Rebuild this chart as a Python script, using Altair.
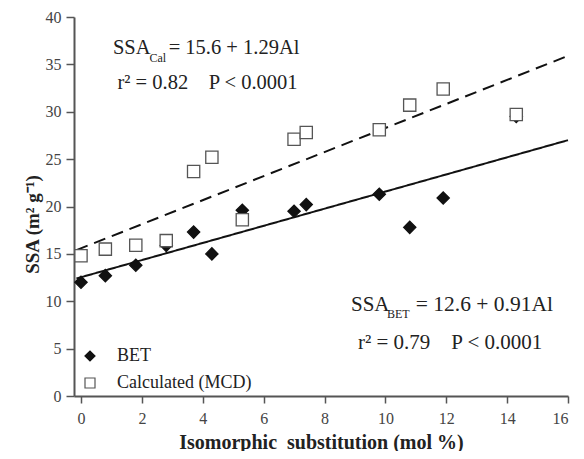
import altair as alt
import pandas as pd

# Data
al_mol = [0.0, 0.8, 1.8, 2.8, 3.7, 4.3, 5.3, 7.0, 7.4, 9.8, 10.8, 11.9, 14.3]
ssa_bet = [12.0, 12.7, 13.8, 15.9, 17.3, 15.0, 19.6, 19.5, 20.2, 21.3, 17.8, 20.9, 29.5]
ssa_cal = [14.8, 15.5, 15.9, 16.4, 23.7, 25.2, 18.6, 27.1, 27.8, 28.1, 30.7, 32.4, 29.7]
series_names = ["BET", "Calculated (MCD)"]

# Regression line end points
fit_x = [-0.15, 16.0]
fit_bet = [12.4, 27.0]
fit_cal = [15.4, 35.9]

x_ticks = [0, 2, 4, 6, 8, 10, 12, 14, 16]
y_ticks = [0, 5, 10, 15, 20, 25, 30, 35, 40]

FONT = "Liberation Serif"
TXT = "#222222"
NB = "\u00a0"

pts = pd.DataFrame({
    "x": al_mol + al_mol,
    "y": ssa_bet + ssa_cal,
    "series": [series_names[0]] * len(al_mol) + [series_names[1]] * len(al_mol),
})
lines = pd.DataFrame({
    "x": fit_x + fit_x,
    "y": fit_bet + fit_cal,
    "fit": ["BET"] * 2 + ["Cal"] * 2,
})

xs = alt.Scale(domain=[-0.23, 16], nice=False, zero=False)
ys = alt.Scale(domain=[0, 40], nice=False)

xax = alt.Axis(values=x_ticks, title=f"Isomorphic{NB}{NB}substitution (mol %)", grid=False,
               labelFont=FONT, labelFontSize=16, labelColor="#444444", labelPadding=7,
               titleFont=FONT, titleFontSize=20, titleFontWeight="bold", titleColor=TXT,
               titlePadding=6, domainColor="#555555", domainWidth=2, tickColor="#555555",
               tickWidth=1.5, tickSize=7)
yax = alt.Axis(values=y_ticks, title="SSA (m² g⁻¹)", grid=False,
               labelFont=FONT, labelFontSize=16, labelColor="#444444", labelPadding=5,
               titleFont=FONT, titleFontSize=19, titleFontWeight="bold", titleColor=TXT,
               titlePadding=3, titleY=207, domainColor="#555555", domainWidth=2, tickColor="#555555",
               tickWidth=1.5, tickSize=8)

line_layer = alt.Chart(lines).mark_line(color="#111111", strokeWidth=2).encode(
    x=alt.X("x:Q", scale=xs, axis=xax),
    y=alt.Y("y:Q", scale=ys, axis=yax),
    detail="fit:N",
    strokeDash=alt.StrokeDash("fit:N", scale=alt.Scale(domain=["BET", "Cal"], range=[[1, 0], [12, 7]]), legend=None),
)

point_layer = alt.Chart(pts).mark_point(size=150, strokeWidth=1.3, opacity=1).encode(
    x=alt.X("x:Q", scale=xs),
    y=alt.Y("y:Q", scale=ys),
    shape=alt.Shape("series:N", scale=alt.Scale(domain=series_names, range=["diamond", "square"]),
                    legend=alt.Legend(title=None, orient="none", legendX=7, legendY=330,
                                      labelFont=FONT, labelFontSize=18, labelColor=TXT,
                                      labelOffset=18, rowPadding=9, symbolSize=100,
                                      symbolStrokeWidth=1.2, padding=0)),
    fill=alt.Fill("series:N", scale=alt.Scale(domain=series_names, range=["#111111", "white"])),
    stroke=alt.Stroke("series:N", scale=alt.Scale(domain=series_names, range=["#111111", "#555555"])),
)

# Annotation texts (equations)
ann = pd.DataFrame({
    "x": [1.05, 2.25, 2.88, 1.2, 8.87, 10.05, 11.0, 9.1],
    "y": [36.1, 35.3, 36.1, 32.4, 9.0, 8.2, 9.0, 5.0],
    "t": ["SSA", "Cal", "= 15.6 + 1.29Al", f"r² = 0.82{NB*4}P < 0.0001",
          "SSA", "BET", "= 12.6 + 0.91Al", f"r² = 0.79{NB*4}P < 0.0001"],
    "s": [20.5, 12, 20.5, 20.5, 21, 12, 21.5, 21],
})
text_layer = alt.Chart(ann).mark_text(align="left", baseline="alphabetic", font=FONT, color=TXT).encode(
    x=alt.X("x:Q", scale=xs),
    y=alt.Y("y:Q", scale=ys),
    text="t:N",
    size=alt.Size("s:Q", scale=None, legend=None),
)

chart = alt.layer(line_layer, point_layer, text_layer).properties(
    width=494, height=379,
    autosize=alt.AutoSizeParams(type="none"),
    padding={"left": 66, "top": 9, "right": 8, "bottom": 55},
).configure_view(stroke=None)

chart.save("out.html", embed_options={"renderer": "svg", "actions": False})
